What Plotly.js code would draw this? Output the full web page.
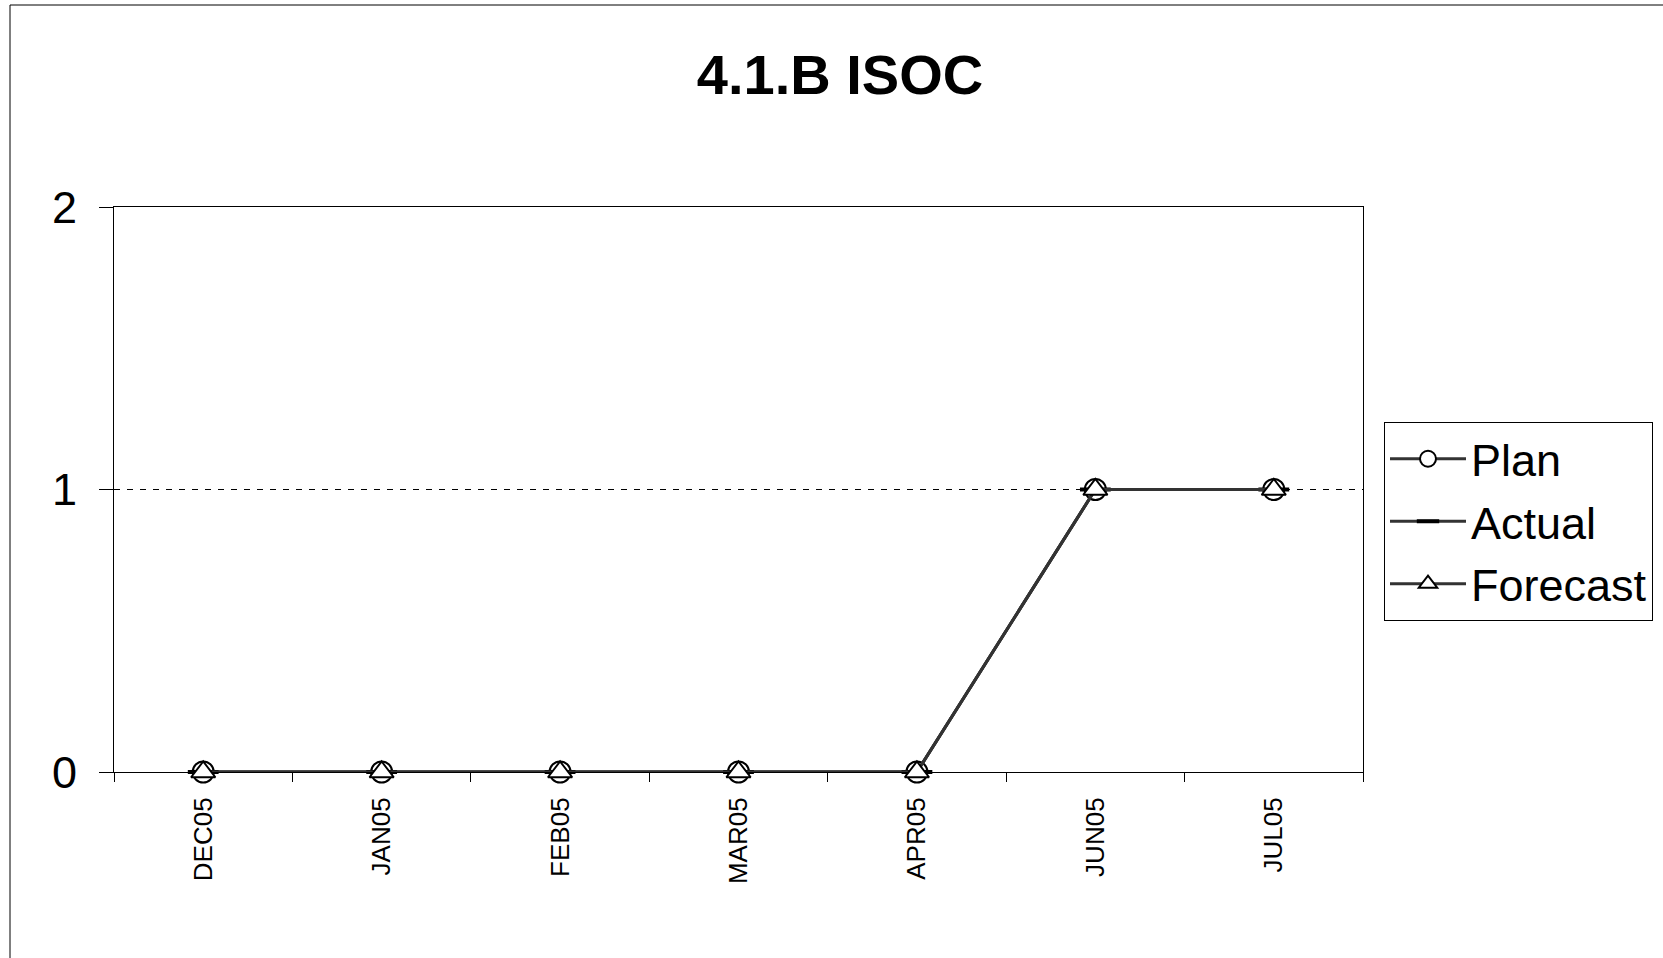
<!DOCTYPE html>
<html>
<head>
<meta charset="utf-8">
<script src="https://cdn.plot.ly/plotly-3.0.1.min.js"></script>
<style>
  html, body { margin: 0; padding: 0; background: #fff; }
  #chart { width: 1663px; height: 958px; }
</style>
</head>
<body>
<div id="chart"></div>
<script>
// ---- data ----
const categories = ["DEC05", "JAN05", "FEB05", "MAR05", "APR05", "JUN05", "JUL05"];
const planValues = [0, 0, 0, 0, 0, 1, 1];
const actualValues = [0, 0, 0, 0, 0, 1, 1];
const forecastValues = [0, 0, 0, 0, 0, 1, 1];
const yTickValues = [0, 1, 2];
const yTickLabels = ["0", "1", "2"];
const chartTitle = "4.1.B ISOC";

// ---- layout geometry ----
const W = 1663, H = 958;
const M = { l: 114, r: 300, t: 207, b: 186, autoexpand: false };
const pw = W - M.l - M.r, ph = H - M.t - M.b;
const px = x => (x - M.l) / pw;
const py = y => (H - M.b - y) / ph;

const FONT = "Arial, 'Liberation Sans', sans-serif";
const lineColor = "#333333";

const traces = [
  {
    name: "Plan", x: categories, y: planValues, type: "scatter", mode: "lines+markers",
    legendgroup: "a", cliponaxis: false,
    line: { color: lineColor, width: 3 },
    marker: { symbol: "circle", size: 21, color: "#ffffff", line: { color: "#000000", width: 2 } }
  },
  {
    name: "Actual", x: categories, y: actualValues, type: "scatter", mode: "lines+markers",
    legendgroup: "b", cliponaxis: false,
    line: { color: lineColor, width: 3 },
    marker: { symbol: "line-ew", size: 22, color: "#000000", line: { color: "#000000", width: 4 } }
  },
  {
    name: "Forecast", x: categories, y: forecastValues, type: "scatter", mode: "lines+markers",
    legendgroup: "c", cliponaxis: false,
    line: { color: lineColor, width: 3 },
    marker: { symbol: "triangle-up", size: 21, color: "#ffffff", line: { color: "#000000", width: 2 } }
  }
];

const layout = {
  width: W, height: H,
  margin: M,
  paper_bgcolor: "#ffffff",
  plot_bgcolor: "#ffffff",
  font: { family: FONT, color: "#000000" },
  showlegend: true,
  title: {
    text: "<b>" + chartTitle + "</b>",
    font: { family: FONT, size: 56, color: "#000000" },
    x: 840 / W, xref: "container", xanchor: "center",
    y: 1 - 74 / H, yref: "container", yanchor: "middle"
  },
  xaxis: {
    type: "category",
    categoryorder: "array", categoryarray: categories,
    range: [-0.5, categories.length - 0.5],
    layer: "below traces",
    showline: true, linecolor: "#000000", linewidth: 1, mirror: true,
    showgrid: false, zeroline: false,
    ticks: "outside", ticklen: 9, tickcolor: "#000000", tickwidth: 1,
    tickson: "boundaries",
    tickangle: -90,
    ticklabelstandoff: 14,
    tickfont: { family: FONT, size: 26, color: "#000000" }
  },
  yaxis: {
    range: [0, 2],
    tickvals: yTickValues, ticktext: yTickLabels,
    layer: "below traces",
    showline: true, linecolor: "#000000", linewidth: 1, mirror: true,
    showgrid: true, gridcolor: "#000000", gridwidth: 1, griddash: "6px,7px",
    zeroline: false,
    ticks: "outside", ticklen: 14, tickcolor: "#000000", tickwidth: 1,
    ticklabelstandoff: 13,
    tickfont: { family: FONT, size: 45, color: "#000000" }
  },
  legend: {
    x: px(1384), y: py(422), xanchor: "left", yanchor: "top",
    bgcolor: "#ffffff", bordercolor: "#000000", borderwidth: 1,
    font: { family: FONT, size: 45, color: "#000000" },
    traceorder: "grouped", tracegroupgap: 1,
    itemwidth: 76
  },
  shapes: [
    { type: "line", xref: "paper", yref: "paper", x0: px(10), x1: px(10), y0: py(H + 5), y1: py(5),
      line: { color: "#000000", width: 1 } },
    { type: "line", xref: "paper", yref: "paper", x0: px(10), x1: px(W + 5), y0: py(5), y1: py(5),
      line: { color: "#000000", width: 1 } }
  ]
};

Plotly.newPlot("chart", traces, layout, { displayModeBar: false, staticPlot: true });
</script>
</body>
</html>
